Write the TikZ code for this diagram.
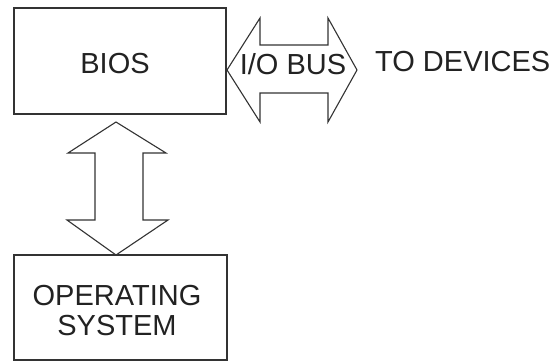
\documentclass[tikz,border=0pt]{standalone}
\usepackage{fontspec}
\setmainfont{Liberation Sans}
\definecolor{ln}{HTML}{333333}
\definecolor{tx}{HTML}{222222}
\begin{document}
\begin{tikzpicture}[x=1pt,y=-1pt,
  box/.style={draw=ln,line width=1.4pt,fill=white},
  lbl/.style={text=tx,font=\fontsize{29}{30}\selectfont,inner sep=0pt,align=center},
  fatarrow/.style={draw=ln,line width=1.1pt,line join=miter,fill=white}]
\useasboundingbox (0,0) rectangle (556,362);
\fill[white] (0,0) rectangle (556,362);
% boxes
\draw[box] (14,8) rectangle (226,114);
\node[lbl] (bios) at (115,64) {BIOS};
\draw[box] (14,255) rectangle (227,360);
\node[lbl] (os) at (117,311) {OPERATING\\SYSTEM};
% horizontal double arrow (I/O bus)
\coordinate (hl) at (227,70);
\coordinate (hr) at (357,70);
\draw[fatarrow] (hl) -- (260,18) -- (260,45) -- (328,45) -- (328,18) -- (hr)
  -- (328,122) -- (328,93) -- (260,93) -- (260,122) -- cycle;
\node[lbl] (bus) at (293,64) {I/O BUS};
\node[lbl,anchor=west] (dev) at (375,62) {TO DEVICES};
% vertical double arrow
\coordinate (vt) at (116,122);
\coordinate (vb) at (116,255);
\draw[fatarrow] (vt) -- (166,153) -- (143,153) -- (143,220) -- (168,220) -- (vb)
  -- (67,220) -- (95,220) -- (95,153) -- (68,153) -- cycle;
\end{tikzpicture}
\end{document}
